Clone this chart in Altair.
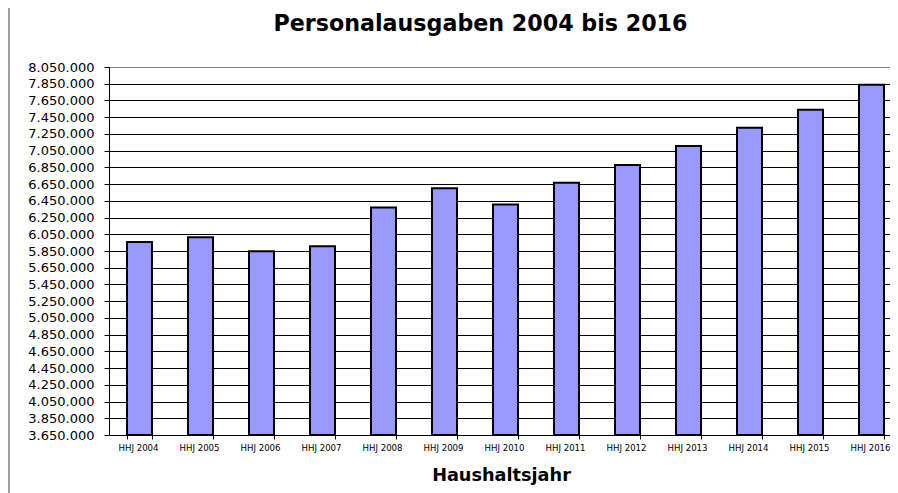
import altair as alt
import pandas as pd

years = ["HHJ 2004", "HHJ 2005", "HHJ 2006", "HHJ 2007", "HHJ 2008", "HHJ 2009", "HHJ 2010",
         "HHJ 2011", "HHJ 2012", "HHJ 2013", "HHJ 2014", "HHJ 2015", "HHJ 2016"]
values = [5958000, 6014000, 5846000, 5906000, 6370000, 6599000, 6406000,
          6665000, 6879000, 7106000, 7325000, 7539000, 7838000]
y_min = 3650000
y_max = 8050000
y_ticks = list(range(3650000, 8050001, 200000))

df = pd.DataFrame({"jahr": years, "wert": values})

FONT = "DejaVu Sans"

bars = alt.Chart(df).mark_bar(color="#9999FF", stroke="#000000", strokeWidth=2).encode(
    x=alt.X("jahr:N", sort=None,
            scale=alt.Scale(paddingInner=0.59, paddingOuter=0.295),
            axis=alt.Axis(title="Haushaltsjahr", tickBand="extent", labelAngle=0,
                          labelFont=FONT, labelFontSize=8.6, labelColor="#000000",
                          labelOffset=-1.5,
                          tickSize=4, labelPadding=4, tickColor="#000000",
                          domainColor="#000000", grid=False,
                          titleFont=FONT, titleFontSize=17.7, titleFontWeight="bold",
                          titleColor="#000000", titlePadding=15, titleX=392)),
    y=alt.Y("wert:Q",
            scale=alt.Scale(domain=[y_min, y_max], zero=False, nice=False),
            axis=alt.Axis(title=None, values=y_ticks, format=",d",
                          labelFont=FONT, labelFontSize=13, labelColor="#000000",
                          tickSize=5, labelPadding=10, tickColor="#000000",
                          domainColor="#000000", grid=True,
                          gridColor=alt.condition("datum.value >= 8050000",
                                                  alt.value("#808080"), alt.value("#000000")),
                          gridOpacity=1, gridWidth=1)),
    y2=alt.datum(y_min),
    tooltip=["jahr", "wert"],
)

border = alt.Chart(pd.DataFrame({"a": [0]})).mark_rule(color="#808080", strokeWidth=1.5).encode(
    x=alt.value(-100), y=alt.value(-60), y2=alt.value(430)
)

chart = alt.layer(bars, border).properties(
    width=793, height=368,
    title=alt.TitleParams("Personalausgaben 2004 bis 2016", font=FONT, fontSize=22.2,
                          fontWeight="bold", color="#000000", anchor="middle",
                          frame="group", dx=-25, dy=29, offset=0),
    autosize=alt.AutoSizeParams(type="none"),
    padding={"left": 101, "top": 59, "right": -12, "bottom": 58},
).configure(
    locale={"number": {"decimal": ",", "thousands": ".", "grouping": [3], "currency": ["", " €"]}}
).configure_view(stroke="#808080", strokeWidth=1)

chart.save("out.html", embed_options={"renderer": "svg", "actions": False})
